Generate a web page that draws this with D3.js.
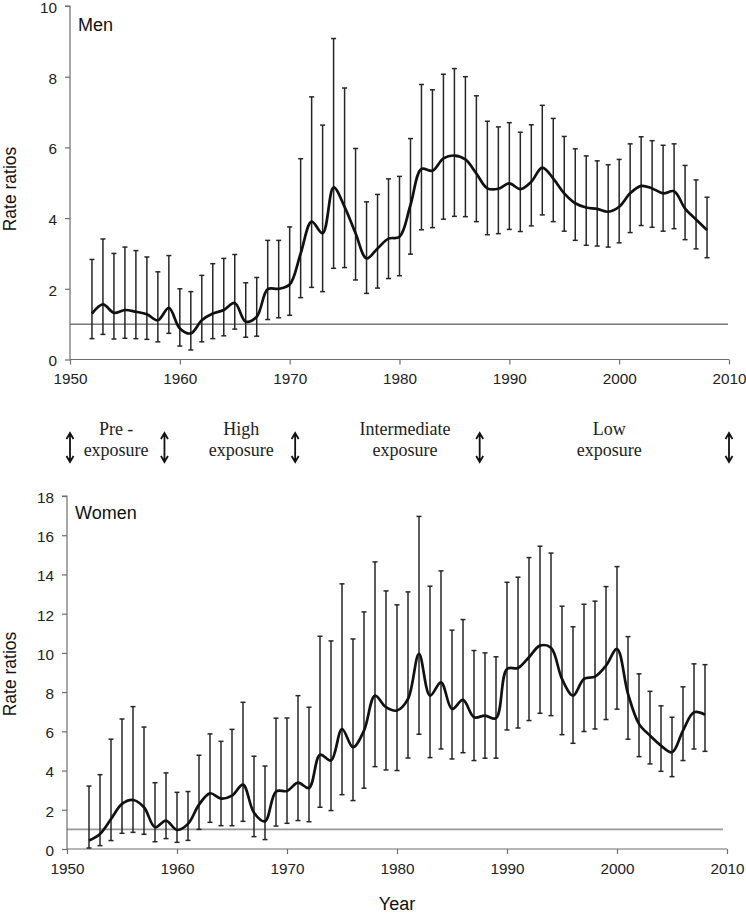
<!DOCTYPE html>
<html>
<head>
<meta charset="utf-8">
<script src="https://cdnjs.cloudflare.com/ajax/libs/d3/7.8.5/d3.min.js"></script>
<style>
  html, body { margin: 0; padding: 0; background: #fff; }
  svg { display: block; }
  .tick text { font-family: "Liberation Sans", Arial, sans-serif; font-size: 15.3px; fill: #222; }
</style>
</head>
<body>
<svg id="chart" width="746" height="915"></svg>
<script>
// ---------- DATA ----------
const years = [1952,1953,1954,1955,1956,1957,1958,1959,1960,1961,1962,1963,1964,1965,1966,1967,1968,1969,1970,
  1971,1972,1973,1974,1975,1976,1977,1978,1979,1980,1981,1982,1983,1984,1985,1986,1987,1988,1989,1990,
  1991,1992,1993,1994,1995,1996,1997,1998,1999,2000,2001,2002,2003,2004,2005,2006,2007,2008];

const menRR = [1.30,1.56,1.32,1.40,1.35,1.28,1.11,1.46,0.88,0.74,1.11,1.30,1.40,1.60,1.07,1.21,1.99,2.00,2.12,
  3.00,3.90,3.57,4.87,4.32,3.57,2.86,3.14,3.42,3.47,4.37,5.39,5.34,5.69,5.77,5.66,5.26,4.84,4.83,4.98,
  4.82,5.03,5.43,5.12,4.70,4.42,4.30,4.26,4.18,4.32,4.70,4.91,4.84,4.70,4.76,4.27,3.96,3.66];
const menUpper = [2.83,3.41,3.00,3.18,3.08,2.90,2.48,2.94,2.00,1.92,2.38,2.71,2.86,2.97,2.17,2.32,3.37,3.37,3.75,
  5.68,7.43,6.63,9.08,7.68,5.97,4.46,4.67,5.11,5.18,6.25,7.78,7.63,8.07,8.23,8.00,7.46,6.74,6.58,6.70,
  6.43,6.64,7.19,6.82,6.31,5.96,5.76,5.62,5.51,5.66,6.10,6.30,6.19,6.06,6.10,5.49,5.08,4.59];
const menLower = [0.59,0.71,0.58,0.60,0.59,0.57,0.50,0.74,0.38,0.27,0.50,0.59,0.67,0.86,0.63,0.66,1.13,1.18,1.25,
  1.75,2.04,1.92,2.58,2.60,2.25,1.87,2.02,2.29,2.37,2.98,3.67,3.73,3.97,4.05,4.04,3.90,3.53,3.56,3.68,
  3.62,3.78,4.09,3.90,3.63,3.37,3.23,3.21,3.18,3.30,3.59,3.79,3.74,3.63,3.70,3.39,3.13,2.88];

const womenRR = [0.43,0.77,1.53,2.30,2.50,2.13,1.11,1.45,0.97,1.28,2.26,2.84,2.57,2.72,3.28,1.85,1.41,2.93,2.96,
  3.38,3.11,4.81,4.51,6.12,5.19,6.04,7.82,7.23,7.06,7.65,9.95,7.82,8.50,7.14,7.60,6.72,6.80,6.67,9.18,
  9.23,9.78,10.37,10.26,8.67,7.82,8.67,8.79,9.35,10.20,7.91,6.38,5.78,5.27,4.93,6.04,6.97,6.85];
const womenUpper = [3.21,3.79,5.60,6.63,7.26,6.22,3.38,3.88,2.89,2.93,4.78,5.87,5.49,6.10,7.48,4.73,4.23,6.67,6.68,
  7.82,7.23,10.85,10.61,13.52,10.71,12.09,14.64,13.16,12.45,13.11,16.96,13.40,14.18,11.16,11.70,10.12,10.00,9.80,13.60,
  13.86,14.86,15.44,15.09,12.38,11.33,12.48,12.64,13.38,14.40,10.83,8.93,8.04,7.30,6.72,8.27,9.44,9.40];
const womenLower = [0.05,0.17,0.43,0.80,0.85,0.75,0.37,0.53,0.34,0.44,1.00,1.36,1.19,1.19,1.41,0.63,0.48,1.17,1.31,
  1.45,1.39,2.13,1.96,2.77,2.47,3.10,4.20,4.03,4.00,4.64,5.85,4.66,5.10,4.59,4.91,4.51,4.63,4.63,6.07,
  6.17,6.55,6.92,6.80,5.83,5.39,5.99,6.12,6.60,7.13,5.60,4.71,4.34,3.96,3.69,4.51,5.10,4.98];

const xTicks = [1950,1960,1970,1980,1990,2000,2010];
const menYTicks = [0,2,4,6,8,10];
const womenYTicks = [0,2,4,6,8,10,12,14,16,18];
const referenceValue = 1;

const periodBoundaries = [1950, 1958.6, 1970.5, 1987.3, 2010];
const periodLabelYears = [1954.2, 1965.6, 1980.5, 1999.1];
const periodLabels = [["Pre -", "exposure"], ["High", "exposure"], ["Intermediate", "exposure"], ["Low", "exposure"]];

// ---------- DRAW ----------
const svg = d3.select("#chart");
svg.append("rect").attr("width", 746).attr("height", 915).attr("fill", "#fff");
const sans = "Liberation Sans, Arial, sans-serif";

function panel(opts) {
  const x = d3.scaleLinear().domain([1950, 2010]).range([opts.x0, opts.x1]);
  const y = d3.scaleLinear().domain([0, opts.ymax]).range([opts.y0, opts.y1]);
  const g = svg.append("g");

  // reference line
  g.append("line")
    .attr("x1", x(1950)).attr("x2", opts.refEnd)
    .attr("y1", y(referenceValue)).attr("y2", y(referenceValue))
    .attr("stroke", opts.refColor).attr("stroke-width", opts.refWidth);

  // axes
  const yAxis = g.append("g").attr("transform", `translate(${x(1950)},0)`)
    .call(d3.axisLeft(y).tickValues(opts.yTicks).tickSize(5).tickPadding(8).tickFormat(d3.format("d")));
  const xAxis = g.append("g").attr("transform", `translate(0,${y(0)})`)
    .call(d3.axisBottom(x).tickValues(xTicks).tickSize(5).tickPadding(9).tickFormat(d3.format("d")));
  [yAxis, xAxis].forEach(a => {
    a.select(".domain").attr("stroke", "#6e6e6e").attr("stroke-width", 1.2);
    a.selectAll(".tick line").attr("stroke", "#6e6e6e").attr("stroke-width", 1.2);
  });
  yAxis.selectAll(".tick text").attr("dy", "0.42em");
  yAxis.select(".domain").attr("d", `M-5,${y(opts.ymax)}H0V${y(0)}`);
  xAxis.select(".domain").attr("d", `M${x(1950)},0H${x(2010)}`);

  // error bars
  const eb = g.append("g").attr("stroke", "#262626").attr("stroke-width", 1.5).attr("fill", "none");
  years.forEach((yr, i) => {
    const cx = x(yr);
    eb.append("line").attr("x1", cx).attr("x2", cx).attr("y1", y(opts.lower[i])).attr("y2", y(opts.upper[i]));
    eb.append("line").attr("x1", cx - 2.5).attr("x2", cx + 2.5).attr("y1", y(opts.upper[i])).attr("y2", y(opts.upper[i]));
    eb.append("line").attr("x1", cx - 2.5).attr("x2", cx + 2.5).attr("y1", y(opts.lower[i])).attr("y2", y(opts.lower[i]));
  });

  // smoothed line
  const line = d3.line().x((d, i) => x(years[i])).y(d => y(d)).curve(d3.curveCatmullRom.alpha(0.5));
  g.append("path").datum(opts.values).attr("d", line)
    .attr("fill", "none").attr("stroke", "#111").attr("stroke-width", 2.7).attr("stroke-linejoin", "round");

  // panel label
  g.append("text").attr("x", opts.x0 + 8).attr("y", opts.labelY)
    .attr("font-family", sans).attr("font-size", 18).attr("fill", "#111")
    .text(opts.label);

  // y title
  g.append("text")
    .attr("transform", `translate(16,${opts.titleY}) rotate(-90)`)
    .attr("text-anchor", "middle")
    .attr("font-family", sans).attr("font-size", 17.5).attr("fill", "#111")
    .text("Rate ratios");
  return x;
}

const xMen = panel({
  x0: 70, x1: 729, y0: 359.5, y1: 6, ymax: 10, yTicks: menYTicks,
  values: menRR, upper: menUpper, lower: menLower,
  refColor: "#333", refWidth: 1, refEnd: 728,
  label: "Men", labelY: 31, titleY: 189
});

panel({
  x0: 67, x1: 727, y0: 849, y1: 496, ymax: 18, yTicks: womenYTicks,
  values: womenRR, upper: womenUpper, lower: womenLower,
  refColor: "#999", refWidth: 1.6, refEnd: 723,
  label: "Women", labelY: 519, titleY: 674
});

// x title
svg.append("text").attr("x", 397).attr("y", 910).attr("text-anchor", "middle")
  .attr("font-family", sans).attr("font-size", 18).attr("fill", "#111")
  .text("Year");

// exposure periods
const ex = svg.append("g");
periodBoundaries.forEach(b => {
  const cx = xMen(b);
  const top = 433, bot = 462;
  ex.append("path")
    .attr("d", `M${cx},${top}V${bot} M${cx - 3.5},${top + 6}L${cx},${top}L${cx + 3.5},${top + 6} M${cx - 3.5},${bot - 6}L${cx},${bot}L${cx + 3.5},${bot - 6}`)
    .attr("fill", "none").attr("stroke", "#111").attr("stroke-width", 1.8);
});
periodLabels.forEach((lines, i) => {
  const t = ex.append("text").attr("text-anchor", "middle")
    .attr("font-family", "Liberation Serif, 'Times New Roman', serif").attr("font-size", 18).attr("fill", "#222");
  t.append("tspan").attr("x", xMen(periodLabelYears[i])).attr("y", 435).text(lines[0]);
  t.append("tspan").attr("x", xMen(periodLabelYears[i])).attr("y", 456).text(lines[1]);
});
</script>
</body>
</html>
